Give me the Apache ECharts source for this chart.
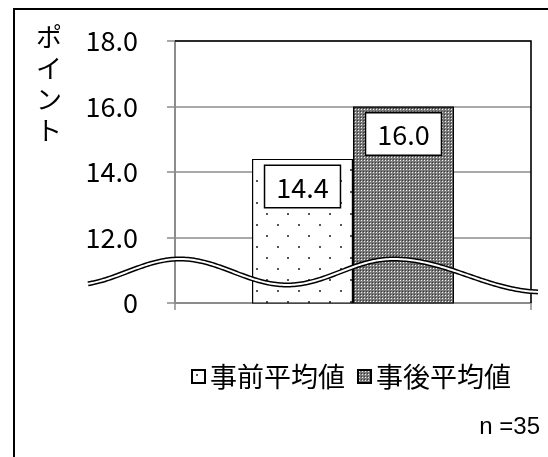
<!DOCTYPE html>
<html>
<head>
<meta charset="utf-8">
<script src="https://cdn.jsdelivr.net/npm/echarts@6/dist/echarts.min.js"></script>
<style>
  html, body { margin: 0; padding: 0; background: #fff; }
  #chart { width: 548px; height: 457px; }
</style>
</head>
<body>
<div id="chart"></div>
<script>
// ---- data ----
const categories = ['平均値'];
const seriesNames = ['事前平均値', '事後平均値'];
const beforeValues = [14.4];
const afterValues = [16.0];
const tickValues = [10, 12, 14, 16, 18];
const tickLabels = ['0', '12.0', '14.0', '16.0', '18.0'];
const axisTitle = 'ポイント';
const sampleNote = 'n =35';

// ---- styling ----
const FONT = '"Noto Sans CJK JP", "Noto Sans", sans-serif';
const GRID = { left: 175, top: 41, right: 17, bottom: 154 };
const W = 548, H = 457;

// fill patterns for the two bars
function makeDots() {
  const c = document.createElement('canvas');
  c.width = 21; c.height = 22;
  const g = c.getContext('2d');
  g.fillStyle = '#ffffff'; g.fillRect(0, 0, 21, 22);
  g.fillStyle = '#555555';
  g.fillRect(4, 4, 2, 2);
  g.fillRect(14, 15, 2, 2);
  return c;
}
function makeChecker() {
  const c = document.createElement('canvas');
  c.width = 3; c.height = 3;
  const g = c.getContext('2d');
  g.fillStyle = '#7a7a7a'; g.fillRect(0, 0, 3, 3);
  g.fillStyle = '#f2f2f2'; g.fillRect(1, 1, 1, 1);
  g.fillStyle = '#383838'; g.fillRect(0, 0, 1, 1);
  return c;
}
const dotFill = { image: makeDots(), repeat: 'repeat' };
const checkFill = { image: makeChecker(), repeat: 'repeat' };

const valueLabel = {
  show: true,
  position: 'insideTop',
  distance: 7,
  formatter: p => Number(p.value).toFixed(1),
  fontFamily: FONT,
  fontSize: 27,
  color: '#000',
  backgroundColor: '#fff',
  borderColor: '#000',
  borderWidth: 1.5,
  padding: [8, 11, 6, 11]
};

const chart = echarts.init(document.getElementById('chart'), null, { renderer: 'canvas' });

chart.setOption({
  animation: false,
  backgroundColor: '#fff',
  grid: { left: GRID.left, top: GRID.top, right: GRID.right, bottom: GRID.bottom, containLabel: false },
  legend: {
    data: seriesNames,
    left: 186,
    top: 358,
    icon: 'rect',
    itemWidth: 13,
    itemHeight: 13,
    itemGap: 12,
    textStyle: { fontFamily: FONT, fontSize: 27, color: '#000' }
  },
  xAxis: {
    type: 'category',
    data: categories,
    axisLine: { lineStyle: { color: '#8c8c8c', width: 2 } },
    axisTick: { show: true, length: 7, lineStyle: { color: '#8c8c8c', width: 1.5 } },
    axisLabel: { show: false },
    splitLine: { show: false }
  },
  yAxis: {
    type: 'value',
    min: tickValues[0],
    max: tickValues[tickValues.length - 1],
    interval: tickValues[1] - tickValues[0],
    axisLine: { show: true, lineStyle: { color: '#8c8c8c', width: 2 } },
    axisTick: { show: true, length: 8, lineStyle: { color: '#8c8c8c', width: 1.5 } },
    axisLabel: {
      margin: 37,
      fontFamily: FONT,
      fontSize: 27,
      color: '#000',
      formatter: v => {
        const i = tickValues.indexOf(v);
        return i >= 0 ? tickLabels[i] : '';
      }
    },
    splitLine: { show: true, lineStyle: { color: '#8c8c8c', width: 1.5 } }
  },
  series: [
    {
      name: seriesNames[0],
      type: 'bar',
      data: beforeValues,
      barWidth: 101,
      barGap: '0%',
      itemStyle: { color: dotFill, borderColor: '#000', borderWidth: 1.2 },
      label: valueLabel
    },
    {
      name: seriesNames[1],
      type: 'bar',
      data: afterValues,
      barWidth: 101,
      barGap: '0%',
      itemStyle: { color: checkFill, borderColor: '#000', borderWidth: 1.2 },
      label: valueLabel
    }
  ]
});

// ---- decorations: plot frame, axis-break wave, titles ----
const gL = GRID.left, gR = W - GRID.right, gB = H - GRID.bottom;
const gT = chart.convertToPixel({ yAxisIndex: 0 }, tickValues[tickValues.length - 1]);

// break wave: extremes given as offsets from the plot corners, half-cosine between them
const keyX = [gL - 102, gL + 5, gL + 112, gL + 218, gR + 12];
const keyY = [gB - 18, gB - 44, gB - 18, gB - 44, gB - 11];
const wave = [];
for (let x = gL - 87; x <= gR + 8; x += 2) {
  let k = 0;
  while (k < keyX.length - 2 && x > keyX[k + 1]) k++;
  const t = (x - keyX[k]) / (keyX[k + 1] - keyX[k]);
  const s = (1 - Math.cos(Math.PI * t)) / 2;
  wave.push([x, keyY[k] + (keyY[k + 1] - keyY[k]) * s]);
}

chart.setOption({
  graphic: [
    {
      type: 'rect', silent: true, z: 100,
      shape: { x: 14, y: 9, width: W + 20, height: H + 20 },
      style: { fill: null, stroke: '#000', lineWidth: 2 }
    },
    {
      type: 'polyline', silent: true, z: 90,
      shape: { points: [[gL, gT], [gR, gT], [gR, gB]] },
      style: { fill: null, stroke: '#000', lineWidth: 1.6 }
    },
    {
      type: 'polyline', silent: true, z: 95,
      shape: { points: wave },
      style: { fill: null, stroke: '#000', lineWidth: 5 }
    },
    {
      type: 'polyline', silent: true, z: 96,
      shape: { points: wave },
      style: { fill: null, stroke: '#fff', lineWidth: 2 }
    },
    {
      type: 'text', silent: true, z: 100,
      x: 49, y: 22,
      style: {
        text: axisTitle.split('').join('\n'),
        fontFamily: FONT, fontSize: 26, lineHeight: 31,
        fill: '#000', align: 'center', verticalAlign: 'top'
      }
    },
    {
      type: 'text', silent: true, z: 100,
      x: 540, y: 427,
      style: {
        text: sampleNote,
        fontFamily: '"Liberation Sans", Arial, sans-serif', fontSize: 24,
        fill: '#000', align: 'right', verticalAlign: 'middle'
      }
    }
  ]
});
</script>
</body>
</html>
